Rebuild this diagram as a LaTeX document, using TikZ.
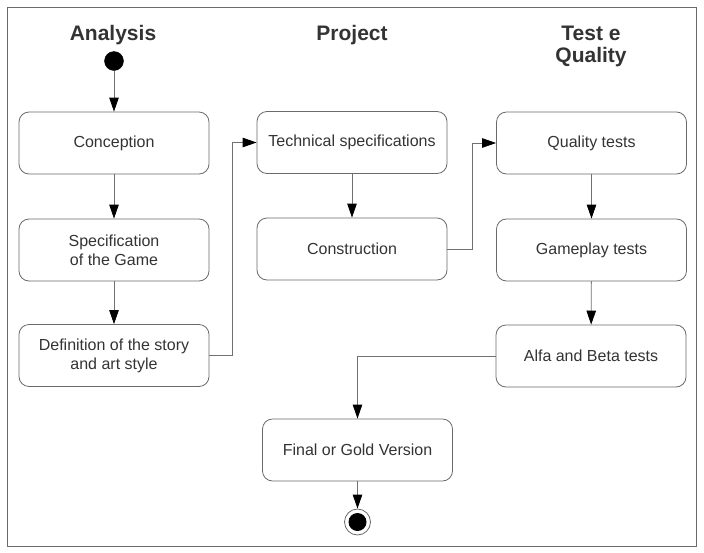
\documentclass[tikz,border=0pt]{standalone}
\usepackage{fontspec}
\setmainfont{Liberation Sans}
\usetikzlibrary{arrows.meta}
\definecolor{boxline}{HTML}{6A6A6A}
\definecolor{conline}{HTML}{707070}
\definecolor{txt}{HTML}{333333}
\tikzset{
  actbox/.style={draw=boxline, line width=0.8pt, rounded corners=10pt, minimum width=190pt, minimum height=62pt, align=center, text=txt, font=\fontsize{16}{19}\selectfont, inner sep=2pt},
  lanetitle/.style={text=txt, font=\fontsize{21}{22}\selectfont\bfseries, align=center},
  flow/.style={draw=conline, line width=0.8pt, -{Triangle[length=14pt,width=9.5pt,color=black]}},
}
\begin{document}
\begin{tikzpicture}[x=1pt,y=-1pt]
\useasboundingbox (0,0) rectangle (704,552);
\draw[draw=boxline, line width=1pt] (7,7) rectangle (696,546);
\node[lanetitle] (tA) at (113,35) {Analysis};
\node[lanetitle] (tP) at (352,35) {Project};
\node[lanetitle] (tT) at (591,46) {Test e\\Quality};
\node[circle, fill=black, draw=black, minimum size=19pt, inner sep=0pt] (start) at (114,61) {};
\node[actbox] (conc) at (114,143) {Conception};
\node[actbox] (spec) at (114,250) {Specification\\of the Game};
\node[actbox] (defi) at (114,355.5) {Definition of the story\\and art style};
\node[actbox] (tech) at (352,142.5) {Technical specifications};
\node[actbox] (cons) at (352,249) {Construction};
\node[actbox] (qual) at (591.5,143) {Quality tests};
\node[actbox] (game) at (591.5,250) {Gameplay tests};
\node[actbox] (alfa) at (591,356) {Alfa and Beta tests};
\node[actbox] (fina) at (357.5,450) {Final or Gold Version};
\node[circle, draw=boxline, line width=0.8pt, fill=white, minimum size=26pt, inner sep=0pt] (endo) at (357.5,522) {};
\node[circle, fill=black, minimum size=18pt, inner sep=0pt] (endi) at (357.5,522) {};
\draw[flow] (start) -- (conc);
\draw[flow] (conc) -- (spec);
\draw[flow] (spec) -- (defi);
\draw[flow] (defi.east) -- ++(23,0) |- (tech.west);
\draw[flow] (tech) -- (cons);
\draw[flow] (cons.east) -- ++(25,0) |- (qual.west);
\draw[flow] (qual) -- (game);
\draw[flow] (game) -- (alfa);
\draw[flow] (alfa.west) -| (fina.north);
\draw[flow] (fina) -- (endo);
\end{tikzpicture}
\end{document}
